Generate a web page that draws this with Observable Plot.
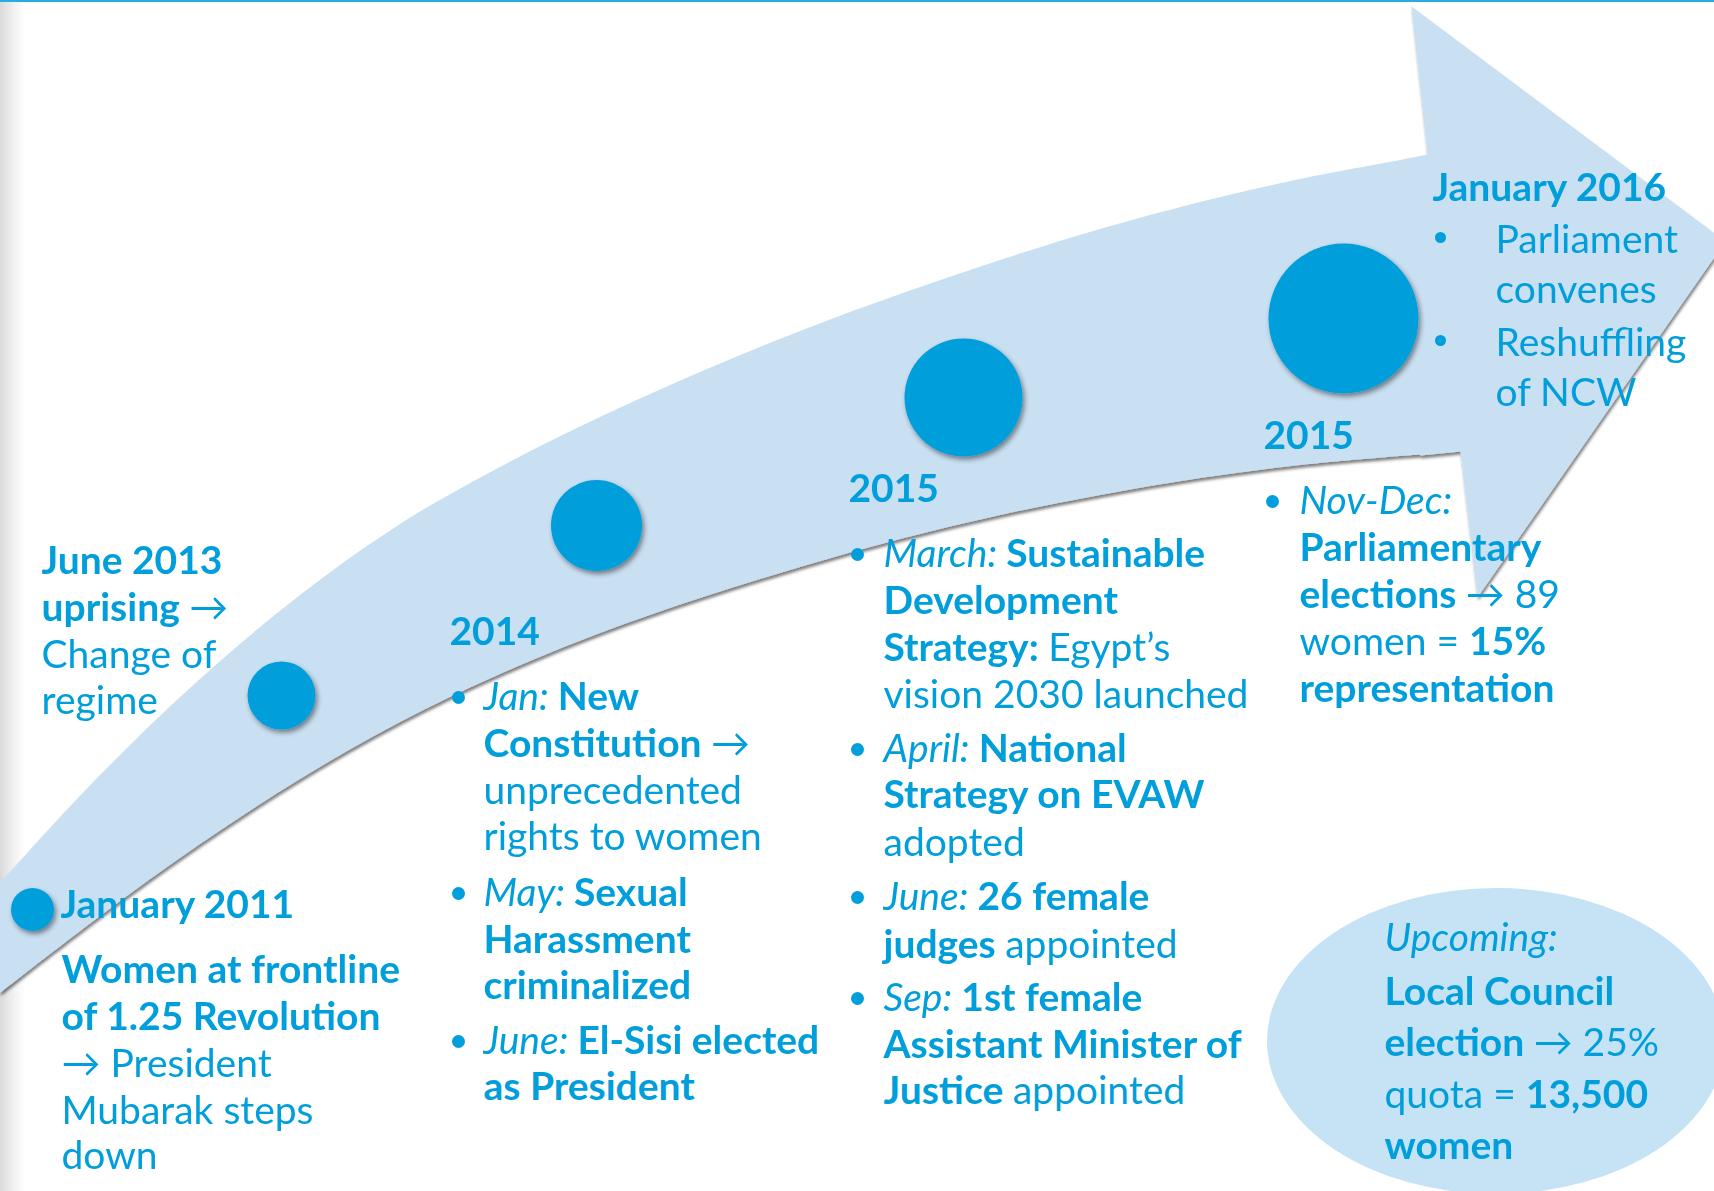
<!DOCTYPE html>
<html>
<head>
<meta charset="utf-8">
<script src="https://cdn.jsdelivr.net/npm/d3@7"></script>
<script src="https://cdn.jsdelivr.net/npm/@observablehq/plot@0.6"></script>
<style>
  html, body { margin: 0; padding: 0; }
  body {
    width: 1714px; height: 1191px; overflow: hidden;
    background: linear-gradient(to right, #dadada 0px, #e8e8e8 8px, #f6f6f6 17px, #ffffff 25px);
  }
  #chart svg { display: block; }
</style>
</head>
<body>
<div id="chart"></div>
<script>
// ================= DATA =================
// Milestones along the arrow, and their relative emphasis (dot radius grows with progress)
const milestoneLabels = ["January 2011", "June 2013", "2014", "2015", "Nov 2015 – Jan 2016"];
const milestoneEmphasis = [21.5, 34, 45.5, 59, 75];

// Text content, line by line; each line is a list of [text, style] runs (b = bold, i = italic, r = regular)
const blockJune2013 = [
  [["June 2013", "b"]],
  [["uprising ", "b"], ["→", "r"]],
  [["Change of", "r"]],
  [["regime", "r"]]
];
const blockJan2011 = [
  [["January 2011", "b"]],
  [["Women at frontline", "b"]],
  [["of 1.25 Revolution", "b"]],
  [["→ President", "r"]],
  [["Mubarak steps", "r"]],
  [["down", "r"]]
];
const block2014 = [
  [["2014", "b"]],
  [["Jan: ", "i"], ["New", "b"]],
  [["Constitution ", "b"], ["→", "r"]],
  [["unprecedented", "r"]],
  [["rights to women", "r"]],
  [["May: ", "i"], ["Sexual", "b"]],
  [["Harassment", "b"]],
  [["criminalized", "b"]],
  [["June: ", "i"], ["El-Sisi elected", "b"]],
  [["as President", "b"]]
];
const block2015 = [
  [["2015", "b"]],
  [["March: ", "i"], ["Sustainable", "b"]],
  [["Development", "b"]],
  [["Strategy: ", "b"], ["Egypt’s", "r"]],
  [["vision 2030 launched", "r"]],
  [["April: ", "i"], ["National", "b"]],
  [["Strategy on EVAW", "b"]],
  [["adopted", "r"]],
  [["June: ", "i"], ["26 female", "b"]],
  [["judges ", "b"], ["appointed", "r"]],
  [["Sep: ", "i"], ["1st female", "b"]],
  [["Assistant Minister of", "b"]],
  [["Justice ", "b"], ["appointed", "r"]]
];
const blockNovDec2015 = [
  [["2015", "b"]],
  [["Nov-Dec:", "i"]],
  [["Parliamentary", "b"]],
  [["elections ", "b"], ["→ 89", "r"]],
  [["women = ", "r"], ["15%", "b"]],
  [["representation", "b"]]
];
const blockJan2016 = [
  [["January 2016", "b"]],
  [["Parliament", "r"]],
  [["convenes", "r"]],
  [["Reshuffling", "r"]],
  [["of NCW", "r"]]
];
const blockUpcoming = [
  [["Upcoming:", "i"]],
  [["Local Council", "b"]],
  [["election ", "b"], ["→ 25%", "r"]],
  [["quota = ", "r"], ["13,500", "b"]],
  [["women", "b"]]
];

// ================= LAYOUT (positions in the page's own units, 0..1714 × 0..1191, y downwards) =================
// Arrow shaft: upper and lower edges sampled along x
const shaftX     = [0,   100, 200, 300, 400, 500, 600, 700, 800, 900, 1000, 1100, 1200, 1300, 1400, 1430];
const shaftUpper = [883, 775, 679, 595, 524, 467, 417, 372, 331, 294, 260,  229,  202,  179,  160,  154];
const shaftLower = [993, 916, 844, 779, 722, 674, 633, 598, 567, 539, 515,  495,  478,  465,  456,  454];
// Arrow head: neck top, top barb, tip, bottom barb, neck bottom, back along the shaft end
const headX = [1427, 1411, 1725, 1477, 1460, 1420, 1420];
const headY = [154,  6,    241,  597,  451,  455,  156];

const milestoneX = [32, 281, 596, 963, 1343];
const milestoneY = [909, 695, 525, 397, 318];

const upcomingBubble = {cx: 1496, cy: 1041, rx: 229, ry: 153};

const blockLayouts = [
  {lines: blockJune2013, x: 41, textX: 41, y: [573, 620, 667, 713], bulletX: 0, bullets: []},
  {lines: blockJan2011, x: 60, textX: 61, y: [917, 982, 1029, 1076, 1123, 1168], bulletX: 0, bullets: []},
  {lines: block2014, x: 449, textX: 483, y: [644, 709, 756, 803, 849, 905, 952, 998, 1053, 1099], bulletX: 458, bullets: [1, 5, 8]},
  {lines: block2015, x: 848, textX: 883, y: [501, 566, 613, 660, 707, 761, 807, 855, 909, 957, 1010, 1057, 1103], bulletX: 857, bullets: [1, 5, 8, 10]},
  {lines: blockNovDec2015, x: 1263, textX: 1299, y: [448, 513, 560, 607, 654, 701], bulletX: 1272, bullets: [1]},
  {lines: blockJan2016, x: 1432, textX: 1495, y: [200, 252, 302, 355, 405], bulletX: 1440, bullets: [1, 3]},
  {lines: blockUpcoming, x: 1384, textX: 1384, y: [950, 1004, 1055, 1107, 1158], bulletX: 0, bullets: []}
];

// ================= BUILD TABLES =================
const shaft = shaftX.map((x, i) => ({x, upper: shaftUpper[i], lower: shaftLower[i]}));
const head = headX.map((x, i) => ({x, y: headY[i]}));
const milestones = milestoneLabels.map((label, i) => ({label, x: milestoneX[i], y: milestoneY[i], r: milestoneEmphasis[i]}));

const textLines = [];
const bulletDots = [];
blockLayouts.forEach((b) => {
  const wide = b.textX - b.bulletX > 40;
  b.lines.forEach((runs, i) => {
    const x = (i === 0) ? b.x : b.textX;
    textLines.push({runs, text: runs.map(r => r[0]).join(""), x, y: b.y[i]});
    if (b.bullets.includes(i)) bulletDots.push({x: b.bulletX, y: b.y[i] - (wide ? 15 : 12), r: wide ? 5.5 : 6.5});
  });
});

const blue = "#009edb";
const arrowBlue = "#c9dff2";
const fontFamily = "Lato, 'Open Sans', 'DejaVu Sans', sans-serif";
const fontSize = 39;

const bubbleMark = (index, scales) => {
  const g = d3.create("svg:g").attr("class", "upcoming-bubble");
  g.append("ellipse")
    .attr("cx", scales.x(upcomingBubble.cx))
    .attr("cy", scales.y(upcomingBubble.cy))
    .attr("rx", scales.x(upcomingBubble.cx + upcomingBubble.rx) - scales.x(upcomingBubble.cx))
    .attr("ry", scales.y(upcomingBubble.cy + upcomingBubble.ry) - scales.y(upcomingBubble.cy))
    .attr("fill", "#c5e3f5");
  return g.node();
};

const plot = Plot.plot({
  width: 1714,
  height: 1191,
  margin: 0,
  style: {background: "transparent", fontFamily, overflow: "hidden"},
  x: {domain: [0, 1714], range: [0, 1714], axis: null},
  y: {domain: [0, 1191], range: [0, 1191], axis: null},
  r: {type: "identity"},
  marks: [
    Plot.ruleY([0], {stroke: "#29abe2", strokeWidth: 3}),
    bubbleMark,
    Plot.area(shaft, {x1: "x", y1: "lower", y2: "upper", fill: arrowBlue, curve: "catmull-rom"}),
    Plot.line(head, {x: "x", y: "y", fill: arrowBlue, stroke: "none", curve: "linear"}),
    Plot.dot(milestones, {x: "x", y: "y", r: "r", fill: blue, stroke: "none"}),
    Plot.dot(bulletDots, {x: "x", y: "y", r: "r", fill: blue, stroke: "none"}),
    Plot.text(textLines, {x: "x", y: "y", text: "text", textAnchor: "start", lineAnchor: "bottom",
      fill: blue, fontSize, fontFamily})
  ]
});

document.getElementById("chart").appendChild(plot);

// ---- post-processing: shadows and mixed-style runs ----
const svg = d3.select(plot);
const defs = svg.insert("defs", ":first-child");
defs.append("filter").attr("id", "arrowShadow")
  .attr("x", "-5%").attr("y", "-5%").attr("width", "110%").attr("height", "115%")
  .append("feDropShadow").attr("dx", 1).attr("dy", 3).attr("stdDeviation", 1.8)
  .attr("flood-color", "#000").attr("flood-opacity", 0.5);
defs.append("filter").attr("id", "dotShadow")
  .attr("x", "-30%").attr("y", "-30%").attr("width", "160%").attr("height", "160%")
  .append("feDropShadow").attr("dx", 2).attr("dy", 3).attr("stdDeviation", 2.5)
  .attr("flood-color", "#000").attr("flood-opacity", 0.45);

// group shaft + head so the shape casts one shadow
const areaG = svg.select('g[aria-label="area"]').node();
const lineG = svg.select('g[aria-label="line"]').node();
if (areaG && lineG) {
  const wrap = document.createElementNS("http://www.w3.org/2000/svg", "g");
  wrap.setAttribute("filter", "url(#arrowShadow)");
  areaG.parentNode.insertBefore(wrap, areaG);
  wrap.appendChild(areaG);
  wrap.appendChild(lineG);
}
const dotGroups = svg.selectAll('g[aria-label="dot"]').nodes();
if (dotGroups.length) d3.select(dotGroups[0]).selectAll("circle").attr("filter", "url(#dotShadow)");

svg.selectAll('g[aria-label="text"] text').each(function (_, i) {
  const line = textLines[i];
  if (!line) return;
  const t = d3.select(this);
  t.text(null);
  line.runs.forEach(([s, st]) => {
    t.append("tspan")
      .attr("font-weight", st === "b" ? "bold" : "normal")
      .attr("font-style", st === "i" ? "italic" : "normal")
      .text(s);
  });
});
</script>
</body>
</html>
